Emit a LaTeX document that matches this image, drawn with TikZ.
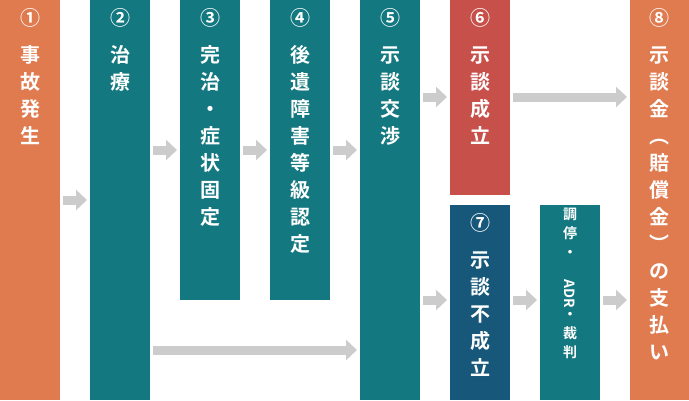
\documentclass[tikz,border=0pt]{standalone}
\usepackage{fontspec}
\setmainfont{Noto Sans CJK JP}[UprightFont=*,BoldFont=* Bold]
\usetikzlibrary{arrows.meta,calc}
\definecolor{orng}{HTML}{E07B4F}
\definecolor{teal2}{HTML}{147880}
\definecolor{redc}{HTML}{C8504A}
\definecolor{navy}{HTML}{17587A}
\definecolor{arr}{HTML}{CCCCCC}
\begin{document}
\begin{tikzpicture}[x=1pt,y=-1pt,
  box/.style={anchor=north west,inner sep=0,outer sep=0,minimum width=60pt},
  lbl/.style={anchor=north,text=white,font=\bfseries\fontsize{20}{27}\selectfont,align=center,inner sep=0},
  fat/.style={draw=arr,line width=9pt,-{Triangle[length=11pt,width=20pt]}}]
\useasboundingbox (0,0) rectangle (689,400);
\node[box,fill=orng,minimum height=400pt] (c1) at (0,0) {};
\node[box,fill=teal2,minimum height=400pt] (c2) at (90,0) {};
\node[box,fill=teal2,minimum height=300pt] (c3) at (180,0) {};
\node[box,fill=teal2,minimum height=300pt] (c4) at (270,0) {};
\node[box,fill=teal2,minimum height=400pt] (c5) at (360,0) {};
\node[box,fill=redc,minimum height=195pt] (c6) at (450,0) {};
\node[box,fill=navy,minimum height=195pt] (c7) at (450,205) {};
\node[box,fill=teal2,minimum height=195pt] (cm) at (540,205) {};
\node[box,fill=orng,minimum height=400pt,minimum width=59pt] (c8) at (630,0) {};
\node[lbl] (t1) at (30,8) {①\\[10pt]事\\故\\発\\生};
\node[lbl] (t2) at (120,8) {②\\[10pt]治\\療};
\node[lbl] (t3) at (210,8) {③\\[10pt]完\\治\\・\\症\\状\\固\\定};
\node[lbl] (t4) at (300,8) {④\\[10pt]後\\遺\\障\\害\\等\\級\\認\\定};
\node[lbl] (t5) at (390,8) {⑤\\[10pt]示\\談\\交\\渉};
\node[lbl] (t6) at (480,8) {⑥\\[10pt]示\\談\\成\\立};
\node[lbl] (t7) at (480,213) {⑦\\[10pt]示\\談\\不\\成\\立};
\node[lbl,font=\bfseries\fontsize{14}{19}\selectfont] (tm) at (570,208) {調\\停\\・\\[3pt]\rotatebox{-90}{ADR}\\[3pt]・\\裁\\判};
\node[lbl] (t8) at (659.5,8) {⑧\\[10pt]示\\談\\金\\︵\\賠\\償\\金\\︶\\の\\支\\払\\い};
\draw[fat] ($(c1.east|-0,200)+(3,0)$) -- ($(c2.west|-0,200)+(-3,0)$);
\draw[fat] ($(c2.east|-0,150)+(3,0)$) -- ($(c3.west|-0,150)+(-3,0)$);
\draw[fat] ($(c3.east|-0,150)+(3,0)$) -- ($(c4.west|-0,150)+(-3,0)$);
\draw[fat] ($(c4.east|-0,150)+(3,0)$) -- ($(c5.west|-0,150)+(-3,0)$);
\draw[fat] ($(c2.east|-0,350)+(3,0)$) -- ($(c5.west|-0,350)+(-3,0)$);
\draw[fat] ($(c5.east|-0,97)+(3,0)$) -- ($(c6.west|-0,97)+(-3,0)$);
\draw[fat] ($(c6.east|-0,97)+(3,0)$) -- ($(c8.west|-0,97)+(-3,0)$);
\draw[fat] ($(c5.east|-0,300)+(3,0)$) -- ($(c7.west|-0,300)+(-3,0)$);
\draw[fat] ($(c7.east|-0,300)+(3,0)$) -- ($(cm.west|-0,300)+(-3,0)$);
\draw[fat] ($(cm.east|-0,300)+(3,0)$) -- ($(c8.west|-0,300)+(-3,0)$);
\end{tikzpicture}
\end{document}
